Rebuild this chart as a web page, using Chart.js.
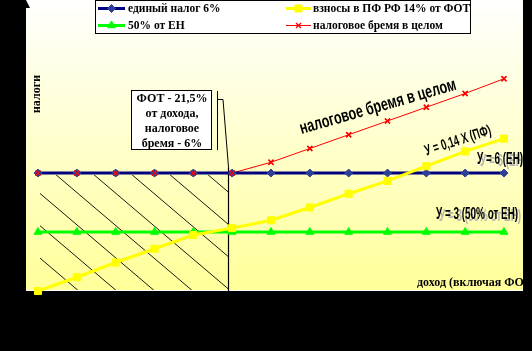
<!DOCTYPE html>
<html><head><meta charset="utf-8">
<script src="https://cdn.jsdelivr.net/npm/chart.js@4.4.0/dist/chart.umd.min.js"></script>
<style>html,body{margin:0;padding:0;background:#000;}#wrap{width:532px;height:351px;}</style>
</head><body><div id="wrap"><canvas id="c" width="532" height="351"></canvas></div>
<script>
// ---- data ----
const categories = ['1','2','3','4','5','6','7','8','9','10','11','12','13'];
const singleTax      = [6,6,6,6,6,6,6,6,6,6,6,6,6];
const pensionContrib = [0,0.7,1.45,2.15,2.85,3.2,3.6,4.25,4.95,5.6,6.35,7.1,7.75];
const halfSingleTax  = [3,3,3,3,3,3,3,3,3,3,3,3,3];
const totalBurden    = [6,6,6,6,6,6,6.55,7.25,7.95,8.65,9.35,10.05,10.8];
const seriesNames = ['единый налог 6%','взносы в ПФ РФ 14% от ФОТ','50% от ЕН','налоговое бремя в целом'];
const yMin = 0, yMax = 14.5;
const fotShareX = 4.9;       // position of the "ФОТ - 21,5%" boundary on the income axis
const calloutLines = ['ФОТ - 21,5%','от дохода,','налоговое','бремя - 6%'];
const yAxisTitle = 'налоги';
const xAxisTitle = 'доход (включая ФОТ)';
const lineLabels = ['налоговое бремя в целом','У = 0,14 Х (ПФ)','У = 6 (ЕН)','У = 3 (50% от ЕН)'];

const PLOT = {L:26, R:523, T:0, B:290};

function narrowText(ctx, text, x, y, size, sx, angle, align, baseline, shadow){
  ctx.save();
  ctx.translate(x, y); ctx.rotate(angle); ctx.scale(sx, 1);
  ctx.font = 'bold ' + size + 'px "Liberation Sans", Arial, sans-serif';
  ctx.textAlign = align; ctx.textBaseline = baseline;
  if (shadow){ ctx.fillStyle = '#b4b4b4'; ctx.fillText(text, 3/sx, 2); }
  ctx.fillStyle = '#000'; ctx.fillText(text, 0, 0);
  ctx.restore();
}

const bgPlugin = {
  id:'bg',
  beforeDraw(chart){
    const ctx = chart.ctx;
    ctx.save();
    ctx.fillStyle = '#000'; ctx.fillRect(0,0,chart.width,chart.height);
    const g = ctx.createLinearGradient(0,PLOT.T,0,PLOT.B);
    g.addColorStop(0,'#FFFFFF'); g.addColorStop(1,'#FFFF99');
    ctx.fillStyle = g; ctx.fillRect(PLOT.L,PLOT.T,PLOT.R-PLOT.L,PLOT.B-PLOT.T);
    ctx.fillStyle = '#FFFFFF'; ctx.fillRect(PLOT.L,PLOT.B,PLOT.R-PLOT.L,1);
    ctx.restore();
  },
  beforeDatasetsDraw(chart){
    const ctx = chart.ctx, xs = chart.scales.x, ys = chart.scales.y;
    const hx0 = xs.getPixelForValue(0), hx1 = xs.getPixelForValue(fotShareX);
    const hy0 = ys.getPixelForValue(6), hy1 = ys.getPixelForValue(0);
    ctx.save();
    ctx.beginPath(); ctx.rect(hx0+2, hy0+2, hx1-hx0-2, hy1-hy0-3); ctx.clip();
    ctx.beginPath(); ctx.strokeStyle = '#000'; ctx.lineWidth = 0.9;
    const slope = 0.85, span = hy1 - hy0;
    for (let k=-4;k<=6;k++){
      const xt = hx0 + 16 + 38*k;
      ctx.moveTo(xt, hy0); ctx.lineTo(xt + span/slope, hy1);
    }
    ctx.stroke();
    ctx.restore();
    // boundary line and callout leader
    ctx.save();
    ctx.strokeStyle = '#000'; ctx.lineWidth = 1.2;
    const vx = Math.round(hx1)+0.5;
    ctx.beginPath();
    ctx.moveTo(vx, ys.getPixelForValue(6.3)); ctx.lineTo(vx, hy1);
    ctx.stroke();
    ctx.lineWidth = 1;
    ctx.beginPath();
    ctx.moveTo(217.5, 91); ctx.lineTo(217.5, 150);
    ctx.moveTo(217.5, 99.5); ctx.lineTo(223, 99.5);
    ctx.lineTo(vx, ys.getPixelForValue(6.3));
    ctx.stroke();
    ctx.restore();
  },
  afterDatasetsDraw(chart){
    // red cross markers stay visible on top of the blue diamonds
    const meta = chart.getDatasetMeta(3);
    const area = {left:0, top:0, right:chart.width, bottom:chart.height};
    meta.data.forEach(p => p.draw(chart.ctx, area));
  },
  afterDraw(chart){
    const ctx = chart.ctx;
    ctx.save();
    // legend
    ctx.fillStyle = '#fff'; ctx.fillRect(95,0,376,34);
    ctx.strokeStyle = '#000'; ctx.lineWidth = 1; ctx.strokeRect(95.5,0.5,375,33);
    const pos = [[98,8.5,27,30],[286,8.5,25,27],[98,25.5,27,30],[286,25.5,25,27]];
    chart.data.datasets.forEach((ds,i)=>{
      const [x,y,len,tx] = pos[i];
      ctx.strokeStyle = ds.borderColor; ctx.lineWidth = ds.borderWidth;
      ctx.beginPath(); ctx.moveTo(x,y); ctx.lineTo(x+len,y); ctx.stroke();
      ctx.fillStyle = ds.pointBackgroundColor; ctx.strokeStyle = ds.pointBorderColor;
      ctx.lineWidth = ds.pointBorderWidth;
      Chart.helpers.drawPoint(ctx, {pointStyle: ds.pointStyle, radius: ds.pointRadius, borderWidth: ds.pointBorderWidth, rotation:0}, x+len/2, y);
      ctx.fillStyle = '#000';
      ctx.font = 'bold 11.5px "Liberation Serif", "Times New Roman", serif';
      ctx.textAlign = 'left'; ctx.textBaseline = 'middle';
      ctx.fillText(ds.label, x+tx, y+0.5);
    });
    // callout box
    ctx.fillStyle = '#fff'; ctx.fillRect(131,90,81,60);
    ctx.strokeStyle = '#000'; ctx.lineWidth = 1; ctx.strokeRect(131.5,90.5,80,59);
    ctx.fillStyle = '#000'; ctx.font = 'bold 12px "Liberation Serif", "Times New Roman", serif';
    ctx.textAlign = 'center'; ctx.textBaseline = 'alphabetic';
    calloutLines.forEach((t,i)=> ctx.fillText(t, 172, 102 + 15*i));
    // axis titles
    ctx.save(); ctx.translate(37,94); ctx.rotate(-Math.PI/2);
    ctx.textAlign = 'center'; ctx.textBaseline = 'middle'; ctx.fillText(yAxisTitle,0,0);
    ctx.restore();
    ctx.textAlign = 'left'; ctx.textBaseline = 'alphabetic';
    ctx.fillText(xAxisTitle, 417, 286);
    // line labels
    narrowText(ctx, lineLabels[0], 378, 107, 18, 0.7, -16*Math.PI/180, 'center', 'middle', false);
    narrowText(ctx, lineLabels[1], 458, 141, 15, 0.64, -18*Math.PI/180, 'center', 'middle', false);
    narrowText(ctx, lineLabels[2], 477, 164, 16, 0.62, 0, 'left', 'alphabetic', true);
    narrowText(ctx, lineLabels[3], 436, 219, 16, 0.62, 0, 'left', 'alphabetic', true);
    // y-axis arrow head
    ctx.fillStyle = '#000';
    ctx.beginPath(); ctx.moveTo(22,8); ctx.lineTo(30,8); ctx.lineTo(26,0); ctx.closePath(); ctx.fill();
    // right frame strip
    ctx.fillStyle = '#000'; ctx.fillRect(PLOT.R,0,chart.width-PLOT.R,chart.height);
    ctx.restore();
  }
};

new Chart(document.getElementById('c'), {
  type:'line',
  data:{
    labels: categories,
    datasets:[
      {label:seriesNames[0], data:singleTax, borderColor:'#000080', borderWidth:3,
       pointStyle:'rectRot', pointRadius:4, pointBackgroundColor:'#2E3F97', pointBorderColor:'#2E3F97', pointBorderWidth:1, order:2, clip:false},
      {label:seriesNames[1], data:pensionContrib, borderColor:'#FFFF00', borderWidth:3,
       pointStyle:'rect', pointRadius:5, pointBackgroundColor:'#FFFF00', pointBorderColor:'#FFFF00', pointBorderWidth:1, order:1, clip:false},
      {label:seriesNames[2], data:halfSingleTax, borderColor:'#00FF00', borderWidth:3,
       pointStyle:'triangle', pointRadius:4.5, pointBackgroundColor:'#00FF00', pointBorderColor:'#00FF00', pointBorderWidth:1, order:3, clip:false},
      {label:seriesNames[3], data:totalBurden, borderColor:'#FF0000', borderWidth:1,
       pointStyle:'crossRot', pointRadius:3.5, pointBackgroundColor:'#FF0000', pointBorderColor:'#FF0000', pointBorderWidth:1.3, order:4, clip:false}
    ]
  },
  options:{
    responsive:false, animation:false, devicePixelRatio:1,
    layout:{padding:{left:38, right:28, top:0, bottom:60}},
    plugins:{legend:{display:false}, tooltip:{enabled:false}},
    elements:{line:{tension:0}},
    scales:{
      x:{type:'category', display:false, offset:false},
      y:{display:false, min:yMin, max:yMax}
    }
  },
  plugins:[bgPlugin]
});
</script></body></html>
